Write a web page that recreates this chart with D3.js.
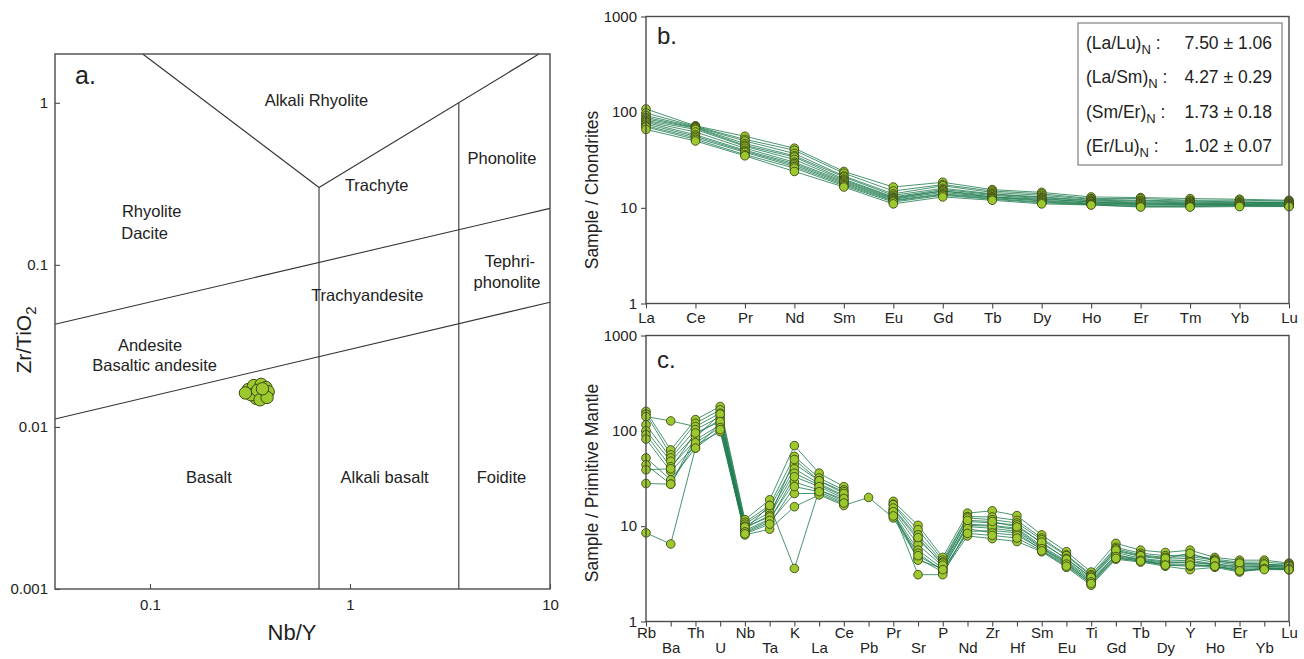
<!DOCTYPE html>
<html>
<head>
<meta charset="utf-8">
<script src="https://cdn.jsdelivr.net/npm/d3@7"></script>
<style>
  body { margin: 0; background: #fff; }
  svg { display: block; font-family: "Liberation Sans", Arial, sans-serif; }
</style>
</head>
<body>
<div id="chart"></div>
<script>
/* ---- Panel a : Nb/Y vs Zr/TiO2 ---- */
var nbY    = [0.31, 0.33, 0.36, 0.38, 0.39, 0.37, 0.34, 0.32, 0.345, 0.355, 0.385, 0.30, 0.365];
var zrTiO2 = [0.0170, 0.0180, 0.0183, 0.0175, 0.0165, 0.0155, 0.0150, 0.0158, 0.0168, 0.0147, 0.0152, 0.0162, 0.0172];

/* field boundaries, [Nb/Y, Zr/TiO2] end points */
var fieldLines = [
  [[0.092, 2], [0.7, 0.3]],
  [[0.7, 0.3], [8.8, 2]],
  [[0.7, 0.001], [0.7, 0.3]],
  [[3.5, 0.001], [3.5, 1.0]],
  [[0.0335, 0.043], [10, 0.223]],
  [[0.0335, 0.0112], [10, 0.0588]]
];
var fieldNames = ["Alkali Rhyolite", "Rhyolite", "Dacite", "Trachyte", "Phonolite", "Tephri-", "phonolite",
                  "Trachyandesite", "Andesite", "Basaltic andesite", "Basalt", "Alkali basalt", "Foidite"];
var fieldNbY    = [0.68, 0.102, 0.094, 1.36, 5.75, 6.3, 6.1, 1.22, 0.1, 0.1055, 0.197, 1.49, 5.72];
var fieldZrTiO2 = [1.03, 0.213, 0.157, 0.308, 0.457, 0.106, 0.0776, 0.0646, 0.032, 0.0239, 0.00486, 0.00486, 0.00486];

/* ---- Panel b : REE / chondrite ---- */
var reeElements = ["La", "Ce", "Pr", "Nd", "Sm", "Eu", "Gd", "Tb", "Dy", "Ho", "Er", "Tm", "Yb", "Lu"];
var reeSamples = [
  [108, 72, 56, 42, 24, 16.5, 18.5, 15.5, 14.5, 13, 12.8, 12.5, 12.3, 12],
  [98, 71, 52, 40, 23, 15, 17.5, 15, 14, 12.5, 12.5, 12, 12, 11.8],
  [92, 70, 50, 37, 21.5, 14, 17, 14.5, 13.5, 12.3, 12, 11.8, 11.5, 11.5],
  [88, 69, 47, 35, 21, 13.5, 16, 14, 13, 12, 11.8, 11.5, 11.5, 11.3],
  [85, 68, 45, 34, 20, 13, 15.5, 13.8, 12.8, 11.8, 11.5, 11.3, 11.3, 11.2],
  [82, 66, 44, 32, 19.5, 12.8, 15, 13.5, 12.5, 11.5, 11.3, 11, 11.2, 11],
  [80, 62, 42, 30, 19, 12.5, 15, 13, 12.3, 11.5, 11, 11, 11, 11],
  [78, 58, 40, 29, 18.5, 12.3, 14.5, 13, 12, 11.2, 11, 10.8, 10.8, 10.8],
  [75, 56, 39, 28, 18, 12, 14, 12.8, 11.8, 11, 10.8, 10.7, 10.8, 10.6],
  [72, 54, 38, 27, 17.5, 11.8, 13.8, 12.5, 11.5, 11, 10.5, 10.5, 10.6, 10.5],
  [70, 52, 36, 26, 17, 11.5, 13.5, 12.3, 11.3, 10.8, 10.3, 10.3, 10.5, 10.4],
  [66, 50, 35, 24, 16.5, 11, 13, 12, 11, 10.7, 10.2, 10.2, 10.3, 10.3]
];
var ratioLabels = ["La/Lu", "La/Sm", "Sm/Er", "Er/Lu"];
var ratioValues = ["7.50 \u00b1 1.06", "4.27 \u00b1 0.29", "1.73 \u00b1 0.18", "1.02 \u00b1 0.07"];

/* ---- Panel c : trace elements / primitive mantle ---- */
var spiderElements = ["Rb", "Ba", "Th", "U", "Nb", "Ta", "K", "La", "Ce", "Pb", "Pr", "Sr", "P", "Nd",
                      "Zr", "Hf", "Sm", "Eu", "Ti", "Gd", "Tb", "Dy", "Y", "Ho", "Er", "Yb", "Lu"];
var spiderSamples = [
  [160, 63, 131, 180, 11.7, 18.9, 70, 36, 26, null, 18.2, 10.2, 4.7, 13.7, 14.5, 12.9, 8.1, 5.4, 3.3, 6.6, 5.6, 5.3, 5.6, 4.7, 4.4, 4.4, 4.1],
  [150, 56, 120, 166, 11, 16.5, 54, 32, 24, null, 17, 9.2, 4.4, 12.6, 12.5, 11.5, 7.5, 5.0, 3.1, 6.0, 5.2, 4.9, 5.0, 4.5, 4.2, 4.2, 4.0],
  [141, 127, 111, 153, 10.5, 15.5, 45, 30, 23, null, 16.8, 8.1, 4.2, 12.2, 11.7, 10.8, 7.2, 4.9, 3.0, 5.8, 5.0, 4.7, 4.8, 4.4, 4.0, 4.0, 3.9],
  [116, 52, 103, 141, 10, 13.9, 40, 28, 21, null, 15.1, 7.2, 4.1, 11.2, 10.8, 10.3, 6.6, 4.6, 2.9, 5.5, 4.8, 4.5, 4.6, 4.2, 3.9, 3.9, 3.8],
  [100, 48, 91, 131, 9.5, 13, 36, 27, 20.5, null, 14.5, 6.4, 3.8, 10.5, 10.2, 9.5, 6.2, 4.3, 2.8, 5.3, 4.6, 4.3, 4.4, 4.0, 3.8, 3.8, 3.7],
  [91, 42, 80, 116, 9, 11.9, 29, 24, 18.2, null, 13.7, 5.6, 3.6, 9.9, 9.5, 8.8, 5.9, 4.1, 2.6, 5.0, 4.4, 4.1, 4.2, 3.9, 3.6, 3.7, 3.6],
  [82, 37.5, 71, 98, 8.5, 11, 22, 22, 17, null, 13, 5.2, 3.4, 8.8, 9.0, 8.5, 5.6, 3.9, 2.5, 4.7, 4.3, 4.0, 4.0, 3.8, 3.5, 3.6, 3.5],
  [52, 30.6, 66, 120, 8.1, 9.3, 16, 21.3, 16.5, 20, 12.2, 4.6, 3.3, 7.9, 7.4, 6.9, 5.4, 3.7, 2.4, 4.5, 4.2, 3.8, 3.5, 3.7, 3.3, 3.6, 3.5],
  [44, 27.6, 85, 150, 9.2, 16.5, 3.6, 24, 19, null, 14, 4.4, 3.6, 10.2, 10, 9.2, 6.0, 4.2, 2.7, 5.0, 4.5, 4.2, 4.2, 4.0, 3.7, 3.8, 3.7],
  [39, 40, 95, 125, 9.8, 12.5, 50, 30, 22, null, 15.5, 7.6, 3.9, 11.5, 11.2, 9.8, 6.8, 4.5, 2.9, 5.6, 4.9, 4.6, 5.2, 4.3, 4.1, 4.0, 3.8],
  [28, 27.6, 75, 108, 8.7, 11.5, 33, 26, 19.5, null, 14.2, 3.1, 3.1, 9.4, 8.5, 8.0, 5.8, 4.0, 2.6, 4.8, 4.4, 3.9, 3.8, 3.8, 3.4, 3.6, 3.6],
  [8.5, 6.5, 66, 103, 8.3, 10.5, 26, 23, 17.5, null, 12.8, 4.9, 3.5, 8.4, 8.0, 7.5, 5.5, 3.8, 2.5, 4.6, 4.3, 3.9, 3.9, 3.8, 3.4, 3.5, 3.5]
];
var spiderTicks = [1, 10, 100, 1000];

(function () {
  "use strict";

  var W = 1304, H = 659;
  var ink = "#222", frameCol = "#4a4a4a";
  var lineCol = "#1d7a4e", dotFill = "#9dc92f", dotStroke = "#3b4a14";

  var svg = d3.select("#chart").append("svg")
    .attr("width", W).attr("height", H)
    .style("background", "#fff");

  function styleAxis(sel, size) {
    sel.select(".domain").remove();
    sel.selectAll(".tick line").attr("stroke", frameCol).attr("stroke-width", 1.1);
    sel.selectAll(".tick text").attr("fill", ink).attr("font-size", size || 15)
      .attr("font-family", "'Liberation Sans', Arial, sans-serif");
  }

  function frame(x0, y0, x1, y1) {
    svg.append("rect")
      .attr("x", x0).attr("y", y0)
      .attr("width", x1 - x0).attr("height", y1 - y0)
      .attr("fill", "none").attr("stroke", frameCol).attr("stroke-width", 1.4);
  }

  /* ================= Panel a ================= */
  var xA = d3.scaleLog().domain([0.0335, 10]).range([55, 550]);
  var yA = d3.scaleLog().domain([0.001, 2]).range([589, 54]);

  fieldLines.forEach(function (l) {
    svg.append("line")
      .attr("x1", xA(l[0][0])).attr("y1", yA(l[0][1]))
      .attr("x2", xA(l[1][0])).attr("y2", yA(l[1][1]))
      .attr("stroke", "#333").attr("stroke-width", 1.1);
  });

  fieldNames.forEach(function (name, i) {
    svg.append("text")
      .attr("x", xA(fieldNbY[i])).attr("y", yA(fieldZrTiO2[i]))
      .attr("dy", "0.35em").attr("text-anchor", "middle")
      .attr("fill", ink).attr("font-size", 16.5)
      .text(name);
  });

  svg.append("g").attr("transform", "translate(55,0)")
    .call(d3.axisLeft(yA).tickValues([0.001, 0.01, 0.1, 1])
      .tickFormat(d3.format("~g")).tickSize(-5).tickPadding(7))
    .call(styleAxis);

  svg.append("g").attr("transform", "translate(0,589)")
    .call(d3.axisBottom(xA).tickValues([0.1, 1, 10])
      .tickFormat(d3.format("~g")).tickSize(-5).tickPadding(10))
    .call(styleAxis);

  frame(55, 54, 550, 589);

  nbY.forEach(function (v, i) {
    svg.append("circle")
      .attr("cx", xA(v)).attr("cy", yA(zrTiO2[i]))
      .attr("r", 6.2)
      .attr("fill", dotFill).attr("stroke", dotStroke).attr("stroke-width", 1);
  });

  svg.append("text").attr("x", 75).attr("y", 84)
    .attr("fill", ink).attr("font-size", 25).text("a.");

  svg.append("text").attr("x", 292).attr("y", 640)
    .attr("text-anchor", "middle").attr("fill", ink).attr("font-size", 22)
    .text("Nb/Y");

  var ylA = svg.append("text")
    .attr("transform", "translate(31,340) rotate(-90)")
    .attr("text-anchor", "middle").attr("fill", ink).attr("font-size", 21);
  ylA.append("tspan").text("Zr/TiO");
  ylA.append("tspan").attr("font-size", 15).attr("dy", 5).text("2");

  /* ================= Panel b ================= */
  var xB = d3.scalePoint().domain(reeElements).range([646, 1289]);
  var yB = d3.scaleLog().domain([1, 1000]).range([303.5, 16.5]);

  svg.append("g").attr("transform", "translate(646,0)")
    .call(d3.axisLeft(yB).tickValues(spiderTicks).tickFormat(d3.format("d"))
      .tickSize(5).tickPadding(4))
    .call(styleAxis);
  svg.append("g").attr("transform", "translate(0,303.5)")
    .call(d3.axisBottom(xB).tickSize(5).tickPadding(4))
    .call(styleAxis);

  var lineB = d3.line()
    .x(function (d, i) { return xB(reeElements[i]); })
    .y(function (d) { return yB(d); });

  reeSamples.forEach(function (s) {
    svg.append("path").attr("d", lineB(s))
      .attr("fill", "none").attr("stroke", lineCol)
      .attr("stroke-width", 1).attr("stroke-opacity", 0.8);
  });
  reeSamples.forEach(function (s) {
    s.forEach(function (v, i) {
      svg.append("circle")
        .attr("cx", xB(reeElements[i])).attr("cy", yB(v)).attr("r", 4.3)
        .attr("fill", dotFill).attr("stroke", dotStroke).attr("stroke-width", 0.9);
    });
  });

  frame(646, 16.5, 1289, 303.5);

  /* ratio box */
  svg.append("rect").attr("x", 1078).attr("y", 23).attr("width", 204).attr("height", 142)
    .attr("fill", "#fff").attr("stroke", "#808080").attr("stroke-width", 1.2);
  ratioLabels.forEach(function (lab, i) {
    var ty = 48.5 + i * 34.5;
    var t = svg.append("text").attr("x", 1086).attr("y", ty)
      .attr("fill", ink).attr("font-size", 17.5);
    t.append("tspan").text("(" + lab + ")");
    t.append("tspan").attr("font-size", 13).attr("dy", 5).text("N");
    t.append("tspan").attr("dy", -5).text(" :");
    svg.append("text").attr("x", 1272).attr("y", ty)
      .attr("text-anchor", "end").attr("fill", ink).attr("font-size", 17.5)
      .text(ratioValues[i]);
  });

  svg.append("text").attr("x", 657).attr("y", 44)
    .attr("fill", ink).attr("font-size", 24).text("b.");

  svg.append("text")
    .attr("transform", "translate(598,190) rotate(-90)")
    .attr("text-anchor", "middle").attr("fill", ink).attr("font-size", 17.5)
    .text("Sample / Chondrites");

  /* ================= Panel c ================= */
  var xC = d3.scalePoint().domain(spiderElements).range([646, 1289]);
  var yC = d3.scaleLog().domain([1, 1000]).range([621.5, 335.5]);

  svg.append("g").attr("transform", "translate(646,0)")
    .call(d3.axisLeft(yC).tickValues(spiderTicks).tickFormat(d3.format("d"))
      .tickSize(5).tickPadding(4))
    .call(styleAxis);
  var axC = svg.append("g").attr("transform", "translate(0,621.5)")
    .call(d3.axisBottom(xC).tickSize(5).tickPadding(1))
    .call(styleAxis);
  /* alternate labels on two rows */
  axC.selectAll(".tick text")
    .attr("dy", function (d, i) { return i % 2 ? "1.72em" : "0.71em"; });

  var lineC = d3.line()
    .defined(function (d) { return d !== null; })
    .x(function (d, i) { return xC(spiderElements[i]); })
    .y(function (d) { return yC(d); });

  spiderSamples.forEach(function (s) {
    svg.append("path").attr("d", lineC(s))
      .attr("fill", "none").attr("stroke", lineCol)
      .attr("stroke-width", 1).attr("stroke-opacity", 0.8);
  });
  spiderSamples.forEach(function (s) {
    s.forEach(function (v, i) {
      if (v === null) return;
      svg.append("circle")
        .attr("cx", xC(spiderElements[i])).attr("cy", yC(v)).attr("r", 4.3)
        .attr("fill", dotFill).attr("stroke", dotStroke).attr("stroke-width", 0.9);
    });
  });

  frame(646, 335.5, 1289, 621.5);

  svg.append("text").attr("x", 657).attr("y", 368)
    .attr("fill", ink).attr("font-size", 24).text("c.");

  svg.append("text")
    .attr("transform", "translate(598,483) rotate(-90)")
    .attr("text-anchor", "middle").attr("fill", ink).attr("font-size", 17.5)
    .text("Sample / Primitive Mantle");
})();
</script>
</body>
</html>
